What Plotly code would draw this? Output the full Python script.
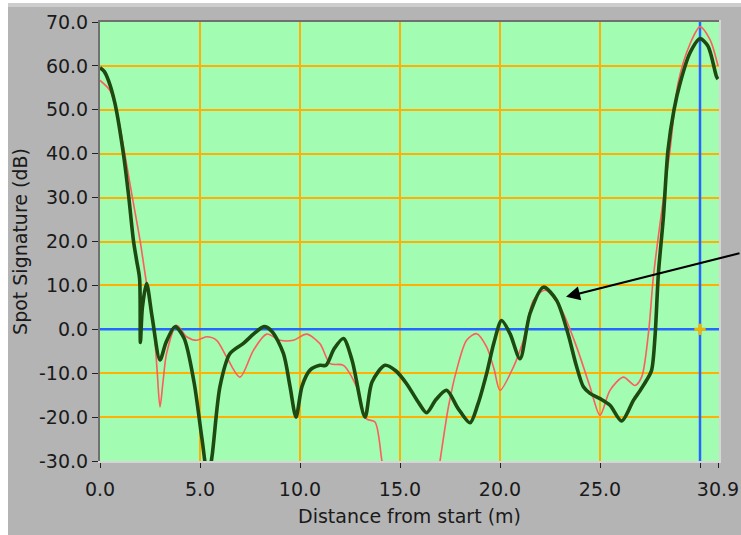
import plotly.graph_objects as go

# ---- data ----
green_x = [0.0, 0.2, 0.42, 0.75, 1.17, 1.42, 1.67, 1.83, 1.98, 2.02, 2.12, 2.33, 2.6, 3.0, 3.3, 3.75,
           4.2, 4.7, 5.1, 5.4, 5.6, 6.0, 6.5, 7.17, 7.7, 8.2, 8.6, 9.17, 9.5, 9.8, 10.1, 10.5,
           11.0, 11.3, 11.7, 12.17, 12.6, 13.25, 13.6, 14.25, 14.8, 15.33, 15.9, 16.33, 16.8,
           17.33, 17.9, 18.5, 18.9, 19.33, 19.7, 20.08, 20.5, 21.0, 21.5, 22.17, 22.83, 23.4,
           23.8, 24.17, 24.5, 25.0, 25.5, 26.08, 26.67, 27.0, 27.33, 27.58, 27.75, 27.92, 28.17,
           28.4, 28.7, 29.0, 29.5, 30.0, 30.4, 30.83, 30.9]
green_y = [59.6, 58.8, 56.7, 51.4, 40.0, 30.9, 20.3, 15.7, 11.5, -3.0, 5.0, 10.4, 3.0, -7.0, -3.0, 0.6,
           -2.0, -12.0, -25.0, -34.0, -29.0, -13.0, -5.5, -3.2, -1.0, 0.6, -0.5, -5.5, -13.0, -20.0, -13.0, -9.3,
           -8.2, -8.2, -4.5, -2.1, -7.0, -20.0, -12.0, -8.2, -9.5, -12.4, -16.5, -19.0, -16.0,
           -13.9, -18.0, -21.3, -17.0, -10.1, -3.0, 2.0, -1.0, -6.7, 3.6, 9.6, 6.6, -1.0,
           -8.0, -13.1, -14.6, -15.8, -17.3, -20.9, -16.2, -14.0, -11.6, -9.3, -1.7, 12.7, 25.6,
           40.8, 50.0, 56.0, 63.0, 66.2, 64.5, 57.5, 57.0]

red_x = [0.0, 0.5, 0.83, 1.2, 1.58, 2.0, 2.33, 2.67, 2.85, 3.0, 3.15, 3.33, 3.83, 4.33, 4.83, 5.33,
         5.83, 6.33, 7.0, 7.67, 8.33, 9.0, 9.67, 10.33, 11.0, 11.5, 12.17, 12.83, 13.33, 13.75,
         14.08, 14.3, 15.5, 16.8, 17.0, 17.42, 17.83, 18.33, 18.83, 19.33, 19.7, 20.0, 20.67,
         21.17, 21.67, 22.25, 23.0, 23.83, 24.5, 25.0, 25.5, 26.17, 26.75, 27.08,
         27.42, 27.67, 28.0, 28.5, 28.9, 29.5, 30.0, 30.5, 30.9]
red_y = [56.7, 54.4, 49.9, 41.0, 31.0, 20.3, 10.4, 1.3, -9.0, -17.7, -12.0, -5.5, 0.9, -1.7, -2.5, -1.7,
         -2.5, -6.3, -10.9, -4.8, -1.1, -2.5, -2.5, -1.1, -3.3, -7.8, -8.2, -13.1, -20.4, -21.1,
         -29.5, -36.0, -42.0, -36.0, -30.0, -17.7, -9.3, -2.5, -1.0, -4.0, -9.0, -13.9, -8.6,
         -2.5, 6.6, 8.9, 5.1, -4.0, -13.1, -19.6, -13.9, -10.9, -12.8, -10.9,
         -1.0, 12.0, 24.0, 40.8, 56.0, 65.0, 68.9, 66.0, 60.0]

x_tick_vals = [0, 5, 10, 15, 20, 25, 30, 30.9]
x_tick_text = ["0.0", "5.0", "10.0", "15.0", "20.0", "25.0", "", "30.9"]
y_tick_vals = [-30, -20, -10, 0, 10, 20, 30, 40, 50, 60, 70]
y_tick_text = ["-30.0", "-20.0", "-10.0", "0.0", "10.0", "20.0", "30.0", "40.0", "50.0", "60.0", "70.0"]

cursor_x = 30.0
cursor_y = 0.0
arrow_tip = (23.3, 7.4)

# ---- layout geometry ----
W, H = 741, 535
ML, MR, MT, MB = 100, 22, 22, 74
PW, PH = W - ML - MR, H - MT - MB
X_RANGE = [0, PW / 20.0]
Y_RANGE = [-30, 70]

def px(x):
    return (x - ML) / PW

def py(y):
    return (H - MB - y) / PH

FONT = "DejaVu Sans"
GRAY = "#B4B4B4"
GRID = "#FFB000"
BLUE = "#2466FF"

fig = go.Figure()
# cursor lines (above grid, below curves)
fig.add_trace(go.Scatter(x=[cursor_x, cursor_x], y=Y_RANGE, mode="lines",
                         line=dict(color=BLUE, width=2.5), hoverinfo="skip"))
fig.add_trace(go.Scatter(x=X_RANGE, y=[cursor_y, cursor_y], mode="lines",
                         line=dict(color=BLUE, width=2.5), hoverinfo="skip"))
fig.add_trace(go.Scatter(x=red_x, y=red_y, mode="lines",
                         line=dict(color="#FF5C5C", width=1.6, shape="spline", smoothing=0.8),
                         hoverinfo="skip"))
fig.add_trace(go.Scatter(x=green_x, y=green_y, mode="lines",
                         line=dict(color="#1C4A10", width=3.6, shape="spline", smoothing=0.8),
                         hoverinfo="skip"))
fig.add_trace(go.Scatter(x=[cursor_x], y=[cursor_y], mode="markers",
                         marker=dict(symbol="cross-thin", size=8, line=dict(color="#F0B400", width=3)),
                         hoverinfo="skip"))

shapes = [
    # panel frame
    dict(type="rect", xref="paper", yref="paper", x0=px(0), x1=px(8), y0=py(H), y1=py(0),
         fillcolor="#FFFFFF", line=dict(width=0), layer="below"),
    dict(type="rect", xref="paper", yref="paper", x0=px(0), x1=px(W), y0=py(3), y1=py(0),
         fillcolor="#FFFFFF", line=dict(width=0), layer="below"),
    dict(type="rect", xref="paper", yref="paper", x0=px(8), x1=px(W), y0=py(7), y1=py(3),
         fillcolor="#CDCDCD", line=dict(width=0), layer="below"),
    # sunken plot border
    dict(type="line", xref="paper", yref="paper", x0=px(ML - 1), x1=px(ML - 1), y0=0, y1=py(MT - 2),
         line=dict(color="#707070", width=2), layer="above"),
    dict(type="line", xref="paper", yref="paper", x0=px(ML - 2), x1=1, y0=py(MT - 1), y1=py(MT - 1),
         line=dict(color="#707070", width=2), layer="above"),
    dict(type="line", xref="paper", yref="paper", x0=px(ML - 2), x1=px(ML + PW + 1), y0=py(H - MB + 1), y1=py(H - MB + 1),
         line=dict(color="#D6D6D6", width=2), layer="above"),
    dict(type="line", xref="paper", yref="paper", x0=px(ML + PW + 1), x1=px(ML + PW + 1), y0=py(H - MB + 2), y1=py(MT - 2),
         line=dict(color="#D6D6D6", width=2), layer="above"),
]

fig.update_layout(
    width=W, height=H,
    margin=dict(l=ML, r=MR, t=MT, b=MB, pad=0, autoexpand=False),
    paper_bgcolor=GRAY, plot_bgcolor="#A2FCB2",
    showlegend=False,
    font=dict(family=FONT, size=19, color="#1A1A1A"),
    shapes=shapes,
    xaxis=dict(range=X_RANGE, tickvals=x_tick_vals, ticktext=x_tick_text, automargin=False,
               showgrid=True, gridcolor=GRID, gridwidth=1.5, zeroline=False,
               ticks="outside", ticklen=6, tickcolor="#222222", tickwidth=1,
               ticklabelstandoff=5,
               showline=False,
               title=dict(text="Distance from start (m)", standoff=10,
                          font=dict(family=FONT, size=19))),
    yaxis=dict(range=Y_RANGE, tickvals=y_tick_vals, ticktext=y_tick_text, automargin=False,
               showgrid=True, gridcolor=GRID, gridwidth=1.5, zeroline=False,
               ticks="outside", ticklen=7, tickcolor="#222222", tickwidth=1,
               showline=False,
               title=dict(text="Spot Signature (dB)", standoff=6,
                          font=dict(family=FONT, size=19))),
    annotations=[dict(x=arrow_tip[0], y=arrow_tip[1], xref="x", yref="y",
                      ax=175, ay=-44, axref="pixel", ayref="pixel",
                      text="", showarrow=True, arrowhead=2, arrowsize=1.4,
                      arrowwidth=2, arrowcolor="#000000", standoff=0)],
)

fig.write_html("out.html")
